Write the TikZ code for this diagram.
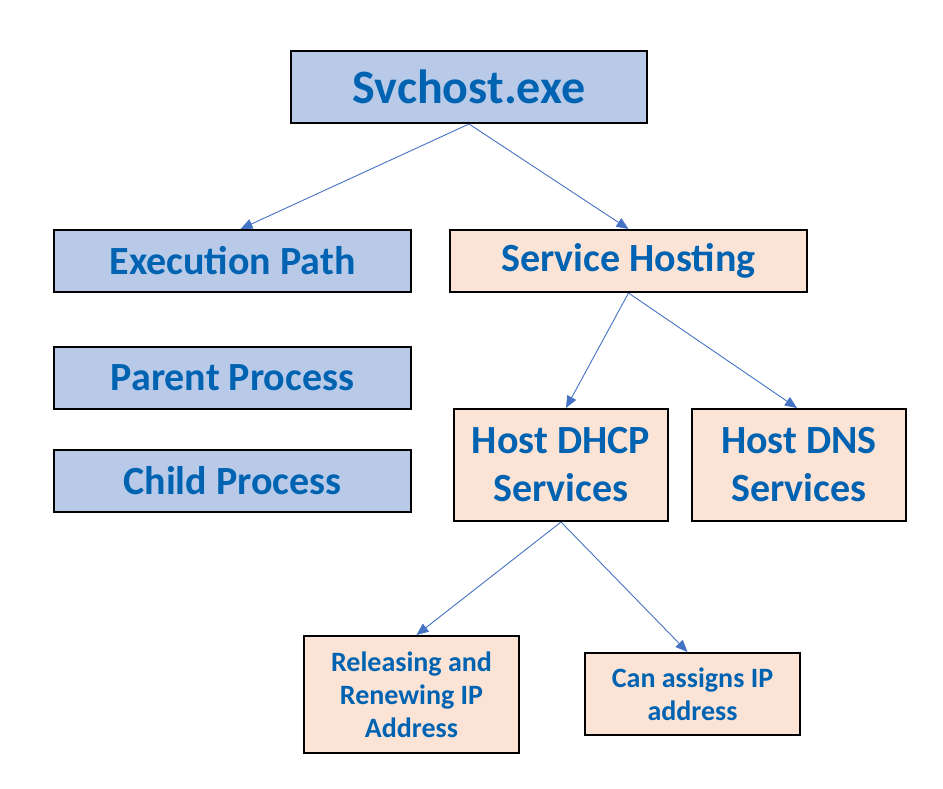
\documentclass[tikz,border=0pt]{standalone}
\usepackage{fontspec}
\setmainfont{Carlito}
\usetikzlibrary{arrows.meta}
\definecolor{txtblue}{RGB}{0,99,178}
\definecolor{boxblue}{RGB}{184,202,232}
\definecolor{boxpeach}{RGB}{251,227,213}
\definecolor{arrblue}{RGB}{68,114,196}
\tikzset{
  box/.style={draw=black, line width=2pt, text=txtblue, font=\bfseries, align=center, inner sep=0pt},
  bluebox/.style={box, fill=boxblue},
  peachbox/.style={box, fill=boxpeach},
  conn/.style={draw=arrblue, line width=0.9pt, -{Triangle[length=12pt,width=10pt]}},
}
\begin{document}
\begin{tikzpicture}[x=1pt,y=-1pt]
\useasboundingbox (0,0) rectangle (943,788);
\node[bluebox, minimum width=356pt, minimum height=72pt, font=\fontsize{48}{54}\selectfont\bfseries] (svc) at (469,87) {Svchost.exe};
\node[bluebox, minimum width=357pt, minimum height=62pt, font=\fontsize{40}{46}\selectfont\bfseries] (exec) at (232.5,261) {Execution Path};
\node[peachbox, minimum width=357pt, minimum height=62pt, font=\fontsize{40}{46}\selectfont\bfseries] (host) at (628.5,261) {Service Hosting};
\node[bluebox, minimum width=357pt, minimum height=62pt, font=\fontsize{40}{46}\selectfont\bfseries] (parent) at (232.5,378) {Parent Process};
\node[bluebox, minimum width=357pt, minimum height=62pt, font=\fontsize{40}{46}\selectfont\bfseries] (child) at (232.5,481) {Child Process};
\node[peachbox, minimum width=214pt, minimum height=112pt, font=\fontsize{40}{48}\selectfont\bfseries] (dhcp) at (561,465) {Host DHCP\\Services};
\node[peachbox, minimum width=214pt, minimum height=112pt, font=\fontsize{40}{48}\selectfont\bfseries] (dns) at (799,465) {Host DNS\\Services};
\node[peachbox, minimum width=215pt, minimum height=117pt, font=\fontsize{28}{33}\selectfont\bfseries] (rel) at (411.5,694.5) {Releasing and\\Renewing IP\\Address};
\node[peachbox, minimum width=215pt, minimum height=82pt, font=\fontsize{28}{33}\selectfont\bfseries] (can) at (692.5,694) {Can assigns IP\\address};
\draw[conn] (svc.south) -- ([xshift=8pt]exec.north);
\draw[conn] (svc.south) -- (host.north);
\draw[conn] (host.south) -- ([xshift=5pt]dhcp.north);
\draw[conn] (host.south) -- ([xshift=-2pt]dns.north);
\draw[conn] (dhcp.south) -- ([xshift=5pt]rel.north);
\draw[conn] (dhcp.south) -- ([xshift=-5pt]can.north);
\end{tikzpicture}
\end{document}
